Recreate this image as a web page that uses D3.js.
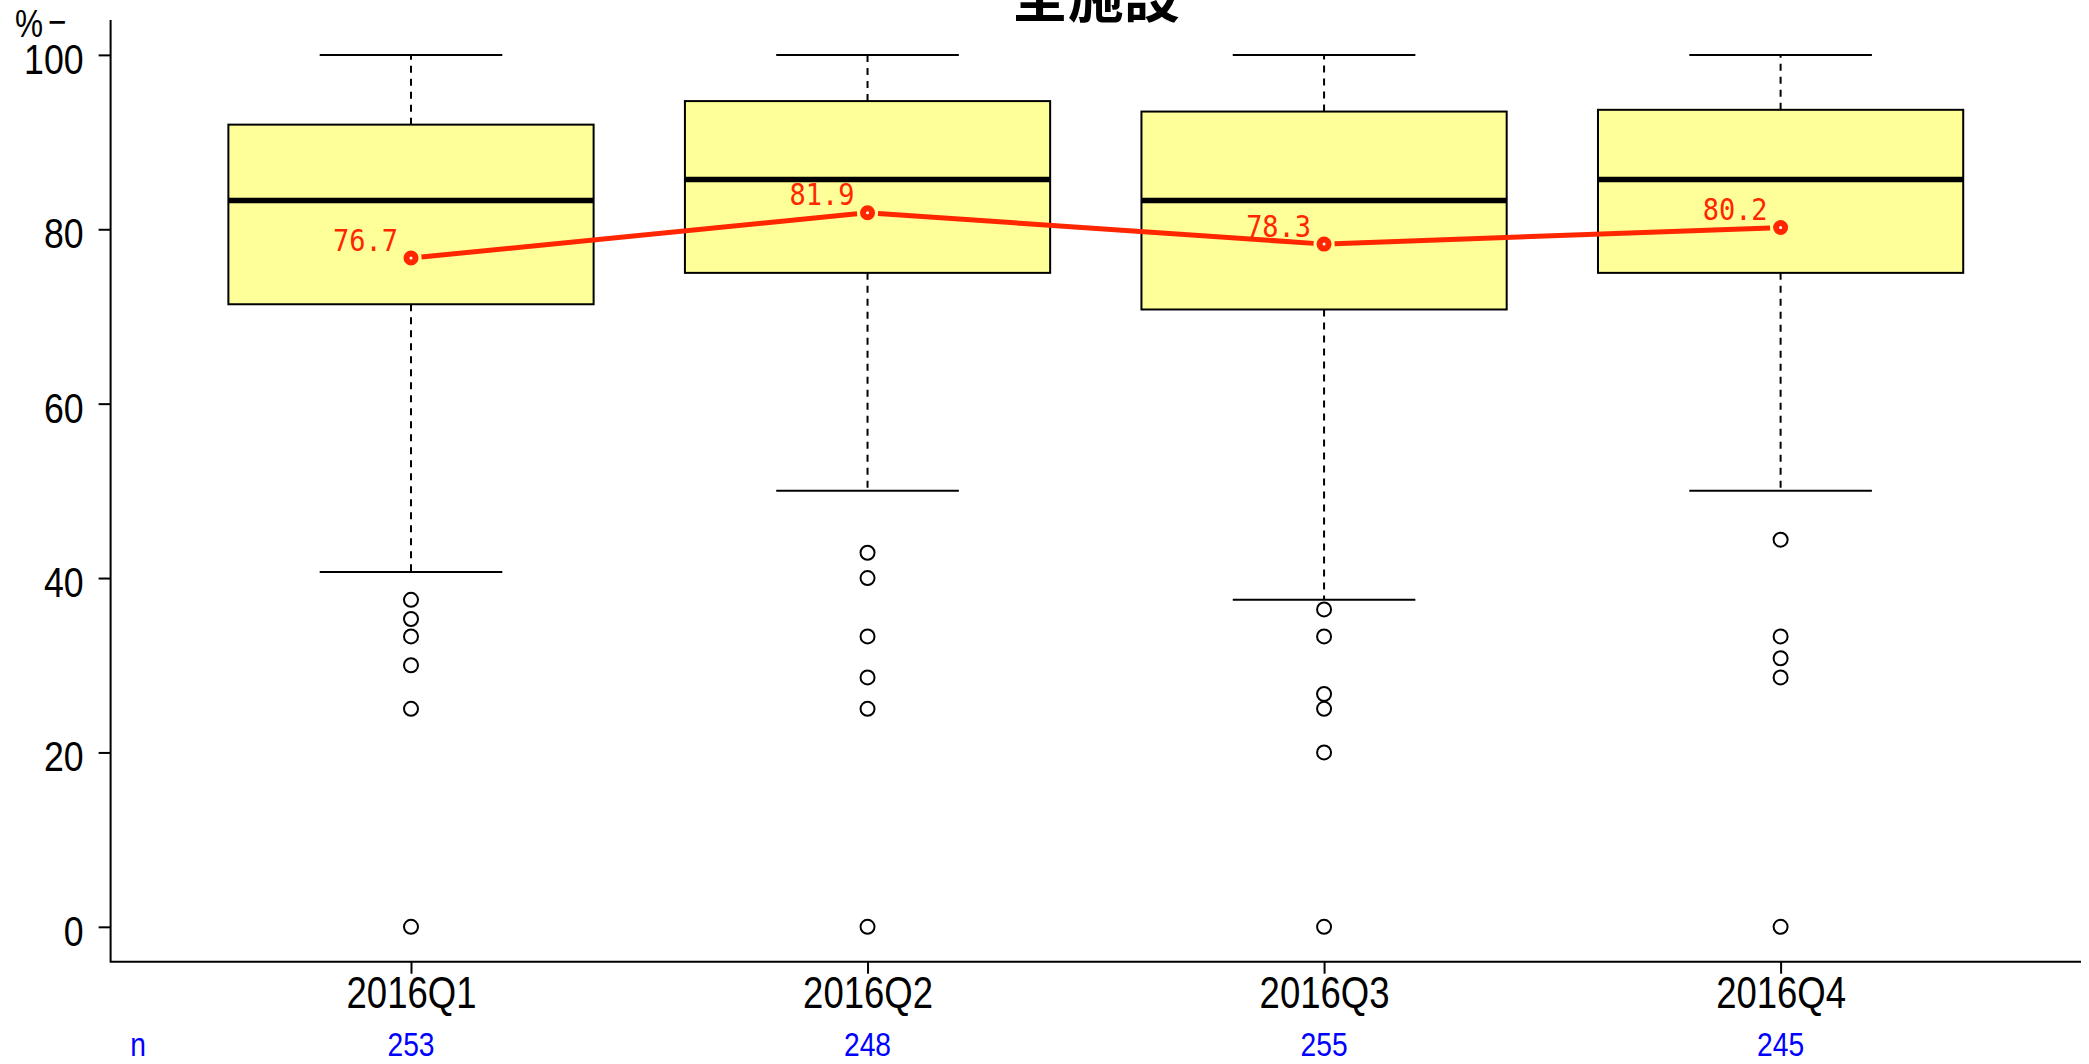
<!DOCTYPE html>
<html>
<head>
<meta charset="utf-8">
<script src="https://cdn.jsdelivr.net/npm/d3@7"></script>
<style>
  html, body { margin: 0; padding: 0; background: #fff; }
  svg { display: block; }
</style>
</head>
<body>
<svg id="chart" width="2089" height="1064"></svg>
<script>
const title = "全施設";
const categories = ["2016Q1", "2016Q2", "2016Q3", "2016Q4"];
const lowerQuartile = [71.4, 75.0, 70.8, 75.0];
const medians = [83.3, 85.7, 83.3, 85.7];
const upperQuartile = [92.0, 94.7, 93.5, 93.7];
const whiskerLow = [40.7, 50.0, 37.5, 50.0];
const whiskerHigh = [100, 100, 100, 100];
const outliers = [
  [37.5, 35.3, 33.3, 30.0, 25.0, 0],
  [42.9, 40.0, 33.3, 28.6, 25.0, 0],
  [36.4, 33.3, 26.7, 25.0, 20.0, 0],
  [44.4, 33.3, 30.8, 28.6, 0]
];
const means = [76.7, 81.9, 78.3, 80.2];
const counts = [253, 248, 255, 245];
const yTicks = [0, 20, 40, 60, 80, 100];

(function () {
const svg = d3.select("#chart");
const pLeft = 110.6, pRight = 2081, pTop = 20, pBottom = 961.7;
const textFont = "'Liberation Sans', Arial, sans-serif";
const narrow = 0.83;
const red = "#ff2600";

const x = d3.scalePoint().domain(categories).range([pLeft, pRight]).padding(0.658);
const step = x.step();
const y = d3.scaleLinear().domain([-4, 104]).range([pBottom, pTop]);

const boxes = categories.map((c, i) => ({
  c, lo: lowerQuartile[i], med: medians[i], hi: upperQuartile[i],
  wl: whiskerLow[i], wh: whiskerHigh[i], out: outliers[i], mean: means[i], n: counts[i]
}));

const g = svg.append("g");

// whiskers (dashed)
g.selectAll(".wUp").data(boxes).join("line")
  .attr("x1", d => x(d.c)).attr("x2", d => x(d.c))
  .attr("y1", d => y(d.hi)).attr("y2", d => y(d.wh))
  .attr("stroke", "#000").attr("stroke-width", 2).attr("stroke-dasharray", "7,6");
g.selectAll(".wLo").data(boxes).join("line")
  .attr("x1", d => x(d.c)).attr("x2", d => x(d.c))
  .attr("y1", d => y(d.lo)).attr("y2", d => y(d.wl))
  .attr("stroke", "#000").attr("stroke-width", 2).attr("stroke-dasharray", "7,6");
// caps
const capHalf = step * 0.2;
g.selectAll(".capUp").data(boxes).join("line")
  .attr("x1", d => x(d.c) - capHalf).attr("x2", d => x(d.c) + capHalf)
  .attr("y1", d => y(d.wh)).attr("y2", d => y(d.wh))
  .attr("stroke", "#000").attr("stroke-width", 2);
g.selectAll(".capLo").data(boxes).join("line")
  .attr("x1", d => x(d.c) - capHalf).attr("x2", d => x(d.c) + capHalf)
  .attr("y1", d => y(d.wl)).attr("y2", d => y(d.wl))
  .attr("stroke", "#000").attr("stroke-width", 2);
// boxes
const boxHalf = step * 0.4;
g.selectAll(".box").data(boxes).join("rect")
  .attr("x", d => x(d.c) - boxHalf).attr("width", boxHalf * 2)
  .attr("y", d => y(d.hi)).attr("height", d => y(d.lo) - y(d.hi))
  .attr("fill", "#ffff99").attr("stroke", "#000").attr("stroke-width", 2);
// medians
g.selectAll(".med").data(boxes).join("line")
  .attr("x1", d => x(d.c) - boxHalf).attr("x2", d => x(d.c) + boxHalf)
  .attr("y1", d => y(d.med)).attr("y2", d => y(d.med))
  .attr("stroke", "#000").attr("stroke-width", 5.5);
// outliers
boxes.forEach(d => {
  g.append("g").selectAll("circle").data(d.out).join("circle")
    .attr("cx", x(d.c)).attr("cy", v => y(v)).attr("r", 7)
    .attr("fill", "none").attr("stroke", "#000").attr("stroke-width", 2);
});

// mean line with gaps (type "b")
const gap = 10.5;
for (let i = 0; i < boxes.length - 1; i++) {
  const x1 = x(boxes[i].c), y1 = y(boxes[i].mean);
  const x2 = x(boxes[i + 1].c), y2 = y(boxes[i + 1].mean);
  const len = Math.hypot(x2 - x1, y2 - y1);
  const ux = (x2 - x1) / len, uy = (y2 - y1) / len;
  g.append("line")
    .attr("x1", x1 + ux * gap).attr("y1", y1 + uy * gap)
    .attr("x2", x2 - ux * gap).attr("y2", y2 - uy * gap)
    .attr("stroke", red).attr("stroke-width", 5);
}
g.selectAll(".meanPt").data(boxes).join("circle")
  .attr("cx", d => x(d.c)).attr("cy", d => y(d.mean)).attr("r", 4.5)
  .attr("fill", "#fff").attr("stroke", red).attr("stroke-width", 6);
g.selectAll(".meanLbl").data(boxes).join("text")
  .attr("transform", d => `translate(${x(d.c) - 13},${y(d.mean) - 7.5}) scale(0.87,1)`)
  .attr("text-anchor", "end")
  .attr("font-family", "'DejaVu Sans Mono', monospace")
  .attr("font-size", 31)
  .attr("fill", red)
  .text(d => d.mean.toFixed(1));

// axes
const yAxis = d3.axisLeft(y).tickValues(yTicks).tickSize(12).tickPadding(15).tickFormat(d3.format("d"));
const ya = svg.append("g").attr("transform", `translate(${pLeft},0)`).call(yAxis);
ya.select(".domain").remove();
ya.selectAll(".tick line").attr("stroke", "#000").attr("stroke-width", 2);
ya.selectAll(".tick text").attr("font-family", textFont).attr("font-size", 43)
  .attr("fill", "#000").attr("dy", null).attr("x", 0).attr("y", 0)
  .attr("transform", `translate(-27,18.5) scale(${narrow},1)`);

const xAxis = d3.axisBottom(x).tickSize(12).tickPadding(0);
const xa = svg.append("g").attr("transform", `translate(0,${pBottom})`).call(xAxis);
xa.select(".domain").remove();
xa.selectAll(".tick line").attr("stroke", "#000").attr("stroke-width", 2);
xa.selectAll(".tick text").attr("font-family", textFont).attr("font-size", 44)
  .attr("fill", "#000").attr("dy", null).attr("y", 0)
  .attr("transform", `translate(0,46) scale(${narrow},1)`);

// L-shaped frame
svg.append("path")
  .attr("d", `M${pLeft},${pTop}V${pBottom}H${pRight}`)
  .attr("fill", "none").attr("stroke", "#000").attr("stroke-width", 2);

// counts
svg.append("text").attr("transform", `translate(138,1056) scale(${narrow},1)`).attr("text-anchor", "middle")
  .attr("font-family", textFont).attr("font-size", 34).attr("fill", "#0000ff").text("n");
svg.selectAll(".cnt").data(boxes).join("text")
  .attr("transform", d => `translate(${x(d.c)},1056) scale(${narrow},1)`).attr("text-anchor", "middle")
  .attr("font-family", textFont).attr("font-size", 34).attr("fill", "#0000ff")
  .text(d => d.n);

// unit label
const unit = svg.append("text").attr("transform", `translate(15,37) scale(${narrow},1)`)
  .attr("font-family", textFont).attr("font-size", 38).attr("fill", "#000");
unit.append("tspan").text("%");
unit.append("tspan").attr("dx", 6).attr("dy", -2).text("−");

// title
svg.append("text").attr("x", (pLeft + pRight) / 2).attr("y", 17).attr("text-anchor", "middle")
  .attr("font-family", "'Noto Sans CJK JP', 'Noto Sans CJK SC', sans-serif")
  .attr("font-weight", "bold").attr("font-size", 56).attr("fill", "#000").text(title);
})();
</script>
</body>
</html>
